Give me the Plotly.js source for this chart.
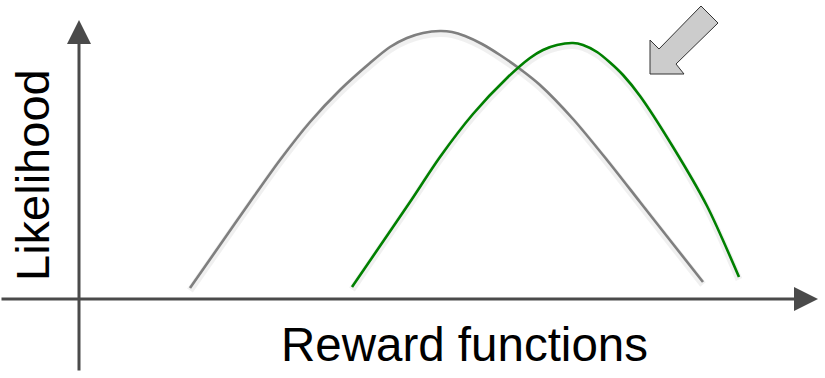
<!DOCTYPE html>
<html>
<head>
<meta charset="utf-8">
<script src="https://cdn.plot.ly/plotly-3.0.1.min.js"></script>
<style>html,body{margin:0;padding:0;background:#fff}#chart{width:825px;height:378px}</style>
</head>
<body>
<div id="chart"></div>
<script>
// Prior (gray) likelihood curve over reward functions
const priorX = [111, 141, 171, 201, 231, 261, 291, 311, 328, 344, 361, 373, 386, 403, 421, 441, 461, 494, 528, 561, 594, 624];
const priorY = [11, 54, 97, 139, 177, 209, 236, 252, 261, 266, 268, 267, 263, 255, 244, 230, 214, 180, 139, 97, 55, 17];
// Shifted (green) likelihood curve
const shiftX = [273, 301, 331, 361, 394, 428, 451, 464, 478, 494, 504, 518, 531, 544, 561, 594, 628, 660];
const shiftY = [12, 53, 97, 142, 185, 221, 241, 249, 254, 256, 254, 247, 236.5, 224, 203, 152, 93, 22];
// Block arrow outline (decoration)
const arrowX = [571, 571, 580, 622, 639, 597, 605, 571];
const arrowY = [225, 259, 250, 293, 276, 235, 225, 225];
// Labels
const xLabel = "Reward functions";
const yLabel = "Likelihood";

const shadow = {color: 'rgba(0,0,0,0.06)', width: 7, shape: 'spline', smoothing: 0.8};
const traces = [
  {x: priorX, y: priorY.map(v => v - 2.5), mode: 'lines', line: shadow, hoverinfo: 'skip'},
  {x: shiftX, y: shiftY.map(v => v - 2.5), mode: 'lines', line: shadow, hoverinfo: 'skip'},
  {x: priorX, y: priorY, mode: 'lines', line: {color: '#7f7f7f', width: 2.6, shape: 'spline', smoothing: 0.8}, name: 'prior'},
  {x: shiftX, y: shiftY, mode: 'lines', line: {color: '#008000', width: 2.6, shape: 'spline', smoothing: 0.8}, name: 'shifted'},
  {x: arrowX, y: arrowY, mode: 'lines', fill: 'toself', fillcolor: '#cccccc', line: {color: '#333333', width: 1}, hoverinfo: 'skip'}
];

const layout = {
  width: 825, height: 378,
  margin: {l: 0, r: 0, t: 0, b: 0},
  paper_bgcolor: '#ffffff', plot_bgcolor: '#ffffff',
  showlegend: false,
  xaxis: {range: [-79, 746], visible: false, fixedrange: true},
  yaxis: {range: [-79, 299], visible: false, fixedrange: true},
  annotations: [
    {x: 739, y: 0, ax: -79, ay: 0, xref: 'x', yref: 'y', axref: 'x', ayref: 'y', text: '', showarrow: true,
     arrowhead: 2, arrowsize: 1.6, arrowwidth: 3, arrowcolor: '#4a4a4a', standoff: 0, startstandoff: 0},
    {x: 0, y: 279, ax: 0, ay: -73, xref: 'x', yref: 'y', axref: 'x', ayref: 'y', text: '', showarrow: true,
     arrowhead: 2, arrowsize: 1.6, arrowwidth: 3, arrowcolor: '#4a4a4a', standoff: 0, startstandoff: 0},
    {x: 385, y: -45, xref: 'x', yref: 'y', text: xLabel, showarrow: false, xanchor: 'center', yanchor: 'middle',
     font: {family: 'Liberation Sans, Arial, sans-serif', size: 47.5, color: '#000'}},
    {x: -47, y: 124, xref: 'x', yref: 'y', text: yLabel, showarrow: false, textangle: -90, xanchor: 'center', yanchor: 'middle',
     font: {family: 'Liberation Sans, Arial, sans-serif', size: 47, color: '#000'}}
  ]
};

Plotly.newPlot('chart', traces, layout, {staticPlot: true, displayModeBar: false});
</script>
</body>
</html>
